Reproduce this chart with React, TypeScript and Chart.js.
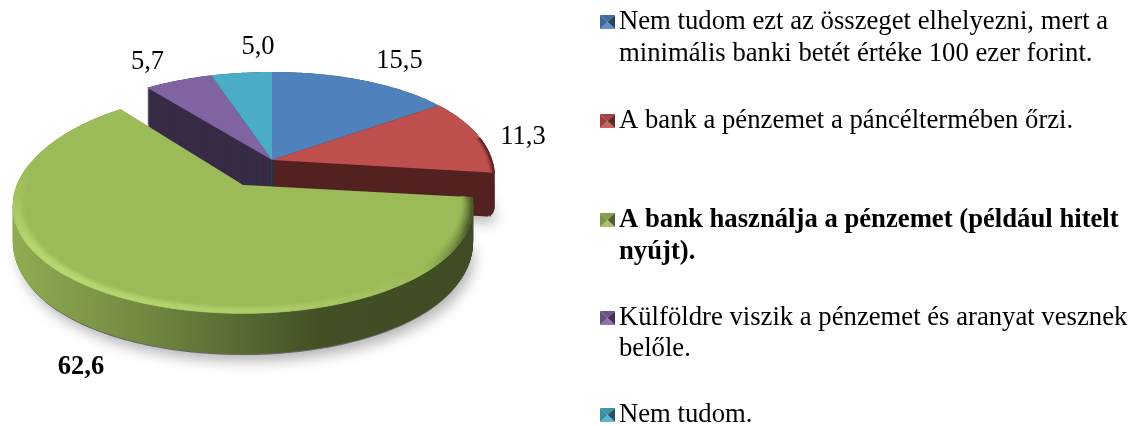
import React, { useEffect, useRef } from "react";
import { Chart, registerables } from "chart.js";

Chart.register(...registerables);

const categories: string[][] = [
  ["Nem tudom ezt az összeget elhelyezni, mert a", "minimális banki betét értéke 100 ezer forint."],
  ["A bank a pénzemet a páncéltermében őrzi."],
  ["A bank használja a pénzemet (például hitelt", "nyújt)."],
  ["Külföldre viszik a pénzemet és aranyat vesznek", "belőle."],
  ["Nem tudom."],
];
const values = [15.5, 11.3, 62.6, 5.7, 5.0];
const valueLabels = ["15,5", "11,3", "62,6", "5,7", "5,0"];
const colors = ["#4f81bd", "#c0504d", "#9bbb59", "#8064a2", "#4bacc6"];
const highlighted = 2;

const labelPos = [[399.5, 68], [523, 143.5], [81, 374], [147.5, 69], [258, 53.5]];
const legendBaselines = [[28.5, 60.5], [127.5], [226.5, 258.5], [324.5, 355.5], [422]];
const FONT = '"Liberation Serif"';
const LEGEND_SIZE = 26.7;
const LABEL_SIZE = 26.5;

type Geo = { cx: number; cy: number; ax: number; ay: number; kx: number; kxl: number; ky: number };
const backGeo: Geo = { cx: 272, cy: 160, ax: 220, ay: 111.5, kx: 0.16, kxl: 0.125, ky: 0.267 };
const frontGeo: Geo = { cx: 243, cy: 185, ax: 226, ay: 108.6, kx: 0.189, kxl: 0.189, ky: 0.154 };
const DEPTH = 44;

const rgb = (hex: string) => [1, 3, 5].map((i) => parseInt(hex.slice(i, i + 2), 16));
const css = (c: number[]) => `rgb(${c.map((v) => Math.round(v)).join(",")})`;
const mix = (a: number[], b: number[], t: number) => a.map((v, i) => v + (b[i] - v) * t);
const scale = (a: number[], f: number) => a.map((v) => v * f);
const clamp = (v: number) => Math.max(0, Math.min(1, v));

function project(g: Geo, th: number, r: number, dy = 0) {
  const u = r * Math.sin(th);
  const v = r * Math.cos(th);
  const k = u < 0 ? g.kxl : g.kx;
  return [g.cx + (g.ax * u) / (1 + k * v), g.cy - (g.ay * v) / (1 + g.ky * v) + dy];
}

function slicePath(ctx: CanvasRenderingContext2D, g: Geo, a: number, b: number, r: number, dy: number) {
  ctx.beginPath();
  const p0 = project(g, a, 0, dy);
  ctx.moveTo(p0[0], p0[1]);
  const n = Math.max(4, Math.ceil((b - a) / 0.015));
  for (let i = 0; i <= n; i++) {
    const p = project(g, a + ((b - a) * i) / n, r, dy);
    ctx.lineTo(p[0], p[1]);
  }
  ctx.closePath();
}

function drawWall(ctx: CanvasRenderingContext2D, g: Geo, a: number, b: number, base: number[], front: boolean) {
  let fill: CanvasGradient | string = css(scale(base, 0.43));
  if (front) {
    const gr = ctx.createLinearGradient(13, 0, 475, 0);
    const stops = [[0, 0.92], [0.3, 0.72], [0.5, 0.56], [0.66, 0.43], [1, 0.4]];
    stops.forEach(([s, f]) => gr.addColorStop(s, css(scale(base, f))));
    fill = gr;
  }
  ctx.fillStyle = fill;
  const round = 9;
  for (let d = DEPTH; d >= 0; d--) {
    const q = clamp((d - (DEPTH - round)) / round);
    const r = 1 - 0.03 * (1 - Math.sqrt(1 - q * q));
    slicePath(ctx, g, a, b, r, d);
    ctx.fill();
  }
}

function drawTop(ctx: CanvasRenderingContext2D, g: Geo, a: number, b: number, base: number[], rimStart: number) {
  ctx.fillStyle = css(base);
  slicePath(ctx, g, a, b, 1, 0);
  ctx.fill();
  const light = mix(base, [200, 235, 130], 0.6);
  const dark = scale(base, 0.42);
  const r0 = rimStart;
  const rings = 6;
  const segs = Math.ceil((b - a) / 0.025);
  ctx.lineWidth = 0.6;
  for (let s = 0; s < segs; s++) {
    const t0 = a + ((b - a) * s) / segs;
    const t1 = a + ((b - a) * (s + 1)) / segs;
    const tm = (t0 + t1) / 2;
    const L = Math.cos(tm - (225 * Math.PI) / 180);
    const f = clamp((0.2 - Math.cos(tm)) / 0.7);
    if (f <= 0) continue;
    for (let i = 0; i < rings; i++) {
      const ra = r0 + ((1 - r0) * i) / rings;
      const rb = r0 + ((1 - r0) * (i + 1)) / rings;
      const t = (i + 0.5) / rings;
      const col = L >= 0
        ? mix(base, light, Math.sin(Math.min(t * 1.25, 1) * Math.PI * 0.5) * L * f)
        : mix(base, dark, Math.pow(t, 1.2) * Math.min(1, -L * 2.5));
      const c = css(col);
      ctx.fillStyle = c;
      ctx.strokeStyle = c;
      ctx.beginPath();
      const p = [project(g, t0, ra), project(g, t1, ra), project(g, t1, rb), project(g, t0, rb)];
      ctx.moveTo(p[0][0], p[0][1]);
      p.slice(1).forEach((q) => ctx.lineTo(q[0], q[1]));
      ctx.closePath();
      ctx.fill();
      ctx.stroke();
    }
  }
}

const pie3d = {
  id: "pie3d",
  beforeDatasetDraw(chart: any) {
    const ctx: CanvasRenderingContext2D = chart.ctx;
    const arcs = chart.getDatasetMeta(0).data;
    const ang = arcs.map((e: any) => [e.startAngle + Math.PI / 2, e.endAngle + Math.PI / 2]);
    const geo = (i: number) => (i === highlighted ? frontGeo : backGeo);
    const base = colors.map(rgb);
    const idx = values.map((_, i) => i);
    const back = idx.filter((i) => i !== highlighted);
    const side = (i: number) => Math.abs(Math.sin((ang[i][0] + ang[i][1]) / 2));
    const wallOrder = [...back].sort((p, q) => side(p) - side(q));

    ctx.save();
    ctx.shadowColor = "rgba(0,0,0,0.3)";
    ctx.shadowBlur = 14;
    ctx.shadowOffsetY = 6;
    ctx.shadowOffsetX = 4;
    ctx.fillStyle = "#666";
    idx.forEach((i) => {
      slicePath(ctx, geo(i), ang[i][0], ang[i][1], 0.985, DEPTH);
      ctx.fill();
    });
    ctx.restore();

    wallOrder.forEach((i) => drawWall(ctx, backGeo, ang[i][0], ang[i][1], base[i], false));
    back.forEach((i) => drawTop(ctx, backGeo, ang[i][0], ang[i][1], base[i], 0.975));
    const h = highlighted;
    drawWall(ctx, frontGeo, ang[h][0], ang[h][1], base[h], true);
    drawTop(ctx, frontGeo, ang[h][0], ang[h][1], base[h], 0.95);
    return false;
  },
  afterDraw(chart: any) {
    const ctx: CanvasRenderingContext2D = chart.ctx;
    ctx.save();
    ctx.fillStyle = "#000";
    ctx.textBaseline = "alphabetic";
    ctx.textAlign = "center";
    valueLabels.forEach((t, i) => {
      ctx.font = `${i === highlighted ? "bold " : ""}${LABEL_SIZE}px ${FONT}`;
      ctx.fillText(t, labelPos[i][0], labelPos[i][1]);
    });
    ctx.textAlign = "left";
    categories.forEach((lines, i) => {
      ctx.font = `${i === highlighted ? "bold " : ""}${LEGEND_SIZE}px ${FONT}`;
      ctx.fillStyle = "#000";
      lines.forEach((line, j) => ctx.fillText(line, 619, legendBaselines[i][j]));
      const y = Math.round(legendBaselines[i][0]) - 14;
      const x = 600;
      const s = 15;
      const sz = 14;
      const c = rgb(colors[i]);
      const tri = (col: number[], pts: number[][]) => {
        ctx.fillStyle = css(col);
        ctx.beginPath();
        ctx.moveTo(pts[0][0], pts[0][1]);
        ctx.lineTo(pts[1][0], pts[1][1]);
        ctx.lineTo(pts[2][0], pts[2][1]);
        ctx.closePath();
        ctx.fill();
      };
      const mx = x + s / 2;
      const my = y + sz / 2;
      tri(scale(c, 0.85), [[x, y], [x + s, y], [mx, my]]);
      tri(scale(c, 0.5), [[x + s, y], [x + s, y + sz], [mx, my]]);
      tri(mix(c, [255, 255, 255], 0.1), [[x, y + sz], [x + s, y + sz], [mx, my]]);
      tri(scale(c, 0.8), [[x, y], [x, y + sz], [mx, my]]);
    });
    ctx.restore();
  },
};

export default function App() {
  const ref = useRef<HTMLCanvasElement>(null);
  useEffect(() => {
    document.body.style.margin = "0";
    const chart = new Chart(ref.current as HTMLCanvasElement, {
      type: "pie",
      data: {
        labels: categories.map((l) => l.join(" ")),
        datasets: [{ data: values, backgroundColor: colors, borderWidth: 0 }],
      },
      options: {
        responsive: false,
        animation: false,
        plugins: { legend: { display: false }, tooltip: { enabled: false } },
      },
      plugins: [pie3d],
    } as any);
    return () => chart.destroy();
  }, []);
  return (
    <div style={{ width: 1140, height: 426, background: "#fff", overflow: "hidden" }}>
      <canvas ref={ref} width={1140} height={426} style={{ display: "block" }} />
    </div>
  );
}
